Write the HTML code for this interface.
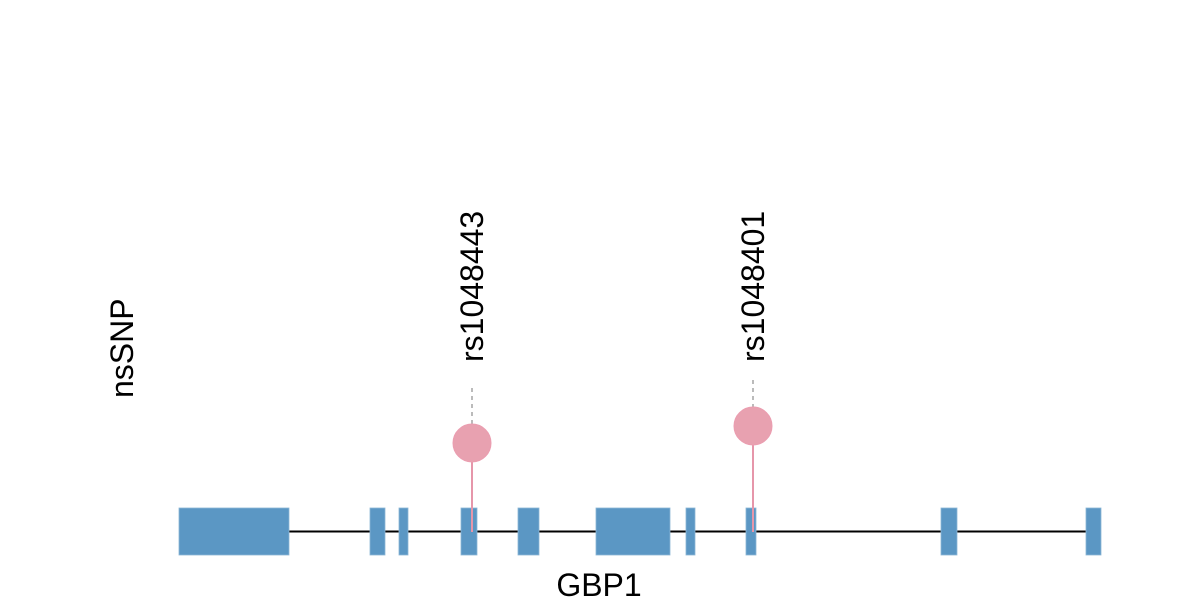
<!DOCTYPE html>
<html><head><style>body{margin:0;background:#fff}</style></head><body>
<svg width="1200" height="600" xmlns="http://www.w3.org/2000/svg" font-family="Liberation Sans, sans-serif">
<line x1="179" y1="531.5" x2="1101" y2="531.5" stroke="#000" stroke-width="2"/>
<g fill="#5b97c4" stroke="#8cb6d6" stroke-width="0.8">
<rect x="179" y="508" width="110" height="47"/>
<rect x="370" y="508" width="15" height="47"/>
<rect x="399" y="508" width="9" height="47"/>
<rect x="461" y="508" width="16" height="47"/>
<rect x="518" y="508" width="21" height="47"/>
<rect x="596" y="508" width="74" height="47"/>
<rect x="686" y="508" width="9" height="47"/>
<rect x="746" y="508" width="10" height="47"/>
<rect x="941" y="508" width="16" height="47"/>
<rect x="1086" y="508" width="15" height="47"/>
</g>
<g stroke="#bbb" stroke-width="2" stroke-dasharray="4,4">
<line x1="472" y1="388" x2="472" y2="424"/>
<line x1="753" y1="380" x2="753" y2="407"/>
</g>
<g stroke="#e696aa" stroke-width="2">
<line x1="472" y1="443" x2="472" y2="532"/>
<line x1="753" y1="426" x2="753" y2="532"/>
</g>
<g fill="#e8a1b0" stroke="#eb9db0" stroke-width="1">
<circle cx="472" cy="443" r="19"/>
<circle cx="753" cy="426" r="19"/>
</g>
<g font-size="32" fill="#000">
<text transform="translate(483,362) rotate(-90)">rs1048443</text>
<text transform="translate(764,362) rotate(-90)">rs1048401</text>
<text transform="translate(133,398) rotate(-90)">nsSNP</text>
<text x="599" y="596" text-anchor="middle">GBP1</text>
</g>
</svg>
</body></html>
